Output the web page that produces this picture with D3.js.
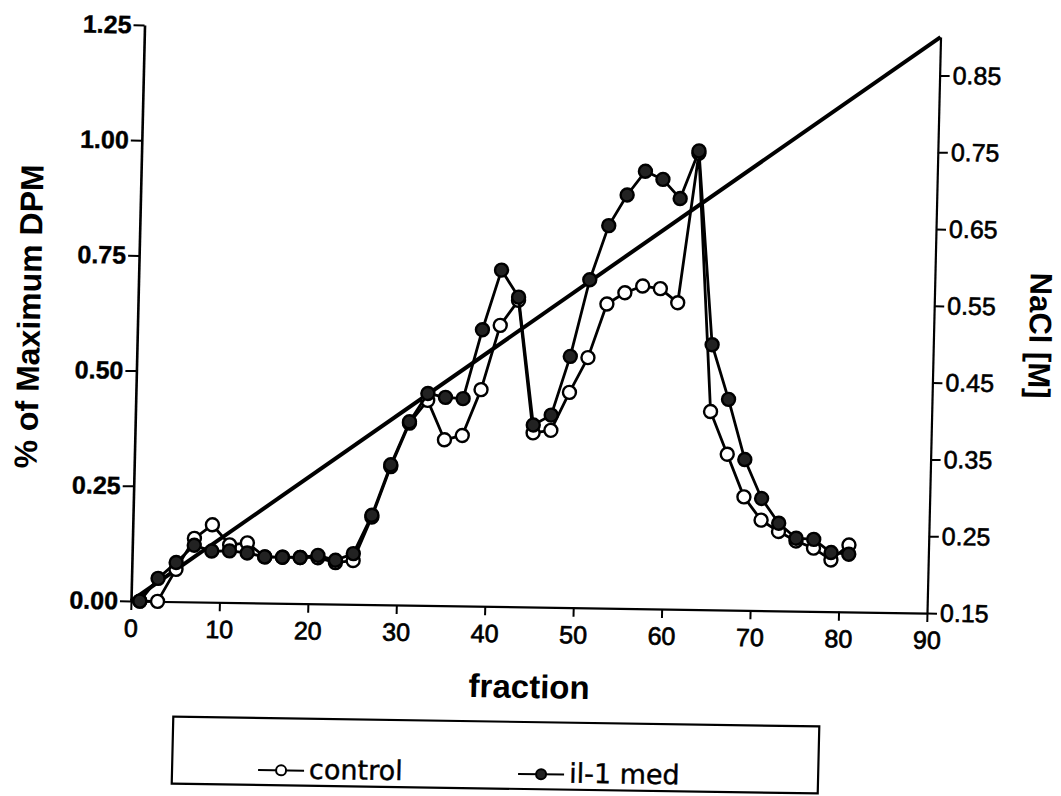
<!DOCTYPE html>
<html>
<head>
<meta charset="utf-8">
<script src="https://cdn.jsdelivr.net/npm/d3@7"></script>
<style>
  body { margin: 0; background: #fff; }
  svg { display: block; }
</style>
</head>
<body>
<svg id="chart" width="1061" height="796"></svg>
<script>
// Fractions collected from the column (every second fraction was counted)
const fractions = [1, 3, 5, 7, 9, 11, 13, 15, 17, 19, 21, 23, 25, 27, 29, 31, 33, 35, 37, 39,
                   41, 43, 45, 47, 49, 51, 53, 55, 57, 59, 61, 63, 65, 67, 69, 71, 73, 75, 77, 79, 81];

// Relative radioactivity (fraction of maximum DPM)
const control = [0, 0, 0.07, 0.138, 0.168, 0.125, 0.13, 0.10, 0.10, 0.10, 0.10, 0.09, 0.095, 0.19, 0.30, 0.395,
                 0.445, 0.36, 0.37, 0.47, 0.61, 0.665, 0.378, 0.384, 0.467, 0.543, 0.66, 0.685, 0.70, 0.695,
                 0.665, 0.99, 0.43, 0.338, 0.246, 0.196, 0.172, 0.152, 0.137, 0.112, 0.145];
const il1Med = [0, 0.05, 0.085, 0.123, 0.111, 0.112, 0.108, 0.10, 0.10, 0.10, 0.105, 0.095, 0.11, 0.194, 0.304, 0.398,
                0.46, 0.452, 0.45, 0.60, 0.73, 0.672, 0.395, 0.417, 0.545, 0.712, 0.83, 0.897, 0.949, 0.932,
                0.891, 0.995, 0.575, 0.457, 0.327, 0.243, 0.19, 0.158, 0.156, 0.128, 0.125];

// Linear NaCl gradient
const saltFractions = [0, 90];
const saltMolar = [0.15, 0.90];

// Tick values
const dpmTicks = [0, 0.25, 0.5, 0.75, 1.0, 1.25];
const saltTicks = [0.15, 0.25, 0.35, 0.45, 0.55, 0.65, 0.75, 0.85];
const fractionTicks = [0, 10, 20, 30, 40, 50, 60, 70, 80, 90];

const seriesNames = ["control", "il-1 med"];

const svg = d3.select("#chart");
svg.append("rect").attr("width", 1061).attr("height", 796).attr("fill", "#fff");

const plotLeft = 131, plotRight = 927, plotTop = 25, plotBottom = 601;
const sans = "'Liberation Sans', Arial, Helvetica, sans-serif";

// Whole figure sits on a slightly sheared frame
const root = svg.append("g")
  .attr("transform", `translate(${plotLeft},${plotBottom}) matrix(1,0.0151,-0.0235,1,0,0) translate(${-plotLeft},${-plotBottom})`);

const x = d3.scaleLinear().domain([0, 90]).range([plotLeft, plotRight]);
const y = d3.scaleLinear().domain([0, 1.25]).range([plotBottom, plotTop]);
const y2 = d3.scaleLinear().domain([0.15, 0.90]).range([plotBottom, plotTop]);

const fmt = d3.format(".2f");

// Left axis
const gLeft = root.append("g").attr("transform", `translate(${plotLeft},0)`)
  .call(d3.axisLeft(y).tickValues(dpmTicks).tickFormat(fmt).tickSize(11).tickPadding(2).tickSizeOuter(0));
gLeft.select(".domain").attr("stroke-width", 2.6);
gLeft.selectAll(".tick line").attr("stroke-width", 2);
gLeft.selectAll(".tick text")
  .attr("font-family", sans).attr("font-weight", "bold").attr("font-size", 25)
  .attr("fill", "#000").attr("stroke", "#000").attr("stroke-width", 0.4);

// Bottom axis
const gBottom = root.append("g").attr("transform", `translate(0,${plotBottom})`)
  .call(d3.axisBottom(x).tickValues(fractionTicks).tickSize(9).tickPadding(9).tickSizeOuter(0));
gBottom.select(".domain").attr("stroke-width", 2.2);
gBottom.selectAll(".tick line").attr("stroke-width", 2);
gBottom.selectAll(".tick text")
  .attr("font-family", sans).attr("font-size", 25)
  .attr("fill", "#000").attr("stroke", "#000").attr("stroke-width", 0.7);

// Right axis
const gRight = root.append("g").attr("transform", `translate(${plotRight},0)`)
  .call(d3.axisRight(y2).tickValues(saltTicks).tickFormat(fmt).tickSize(10).tickPadding(3).tickSizeOuter(0));
gRight.select(".domain").attr("stroke-width", 2.2);
gRight.selectAll(".tick line").attr("stroke-width", 2);
gRight.selectAll(".tick text")
  .attr("font-family", sans).attr("font-size", 25)
  .attr("fill", "#000").attr("stroke", "#000").attr("stroke-width", 0.6);

// NaCl gradient line
const saltLine = d3.line().x(d => x(d[0])).y(d => y2(d[1]));
root.append("path")
  .datum(saltFractions.map((f, i) => [f, saltMolar[i]]))
  .attr("d", saltLine)
  .attr("fill", "none").attr("stroke", "#000").attr("stroke-width", 4);

// Elution profiles
const line = d3.line().x(d => x(d[0])).y(d => y(d[1]));
const series = [
  { name: seriesNames[0], values: control, fill: "#fff" },
  { name: seriesNames[1], values: il1Med, fill: "#222" }
];

series.forEach(s => {
  const pts = fractions.map((f, i) => [f, s.values[i]]);
  const g = root.append("g");
  g.append("path").datum(pts).attr("d", line)
    .attr("fill", "none").attr("stroke", "#000").attr("stroke-width", 2.8).attr("stroke-linejoin", "round");
  g.selectAll("circle").data(pts).join("circle")
    .attr("cx", d => x(d[0])).attr("cy", d => y(d[1])).attr("r", 6.5)
    .attr("fill", s.fill).attr("stroke", "#000").attr("stroke-width", 2.4);
});

// Axis titles
root.append("text")
  .attr("transform", `translate(22,${(plotTop + plotBottom) / 2 + 5}) rotate(-90)`)
  .attr("text-anchor", "middle").attr("dy", "0.36em")
  .attr("font-family", sans).attr("font-weight", "bold").attr("font-size", 32)
  .text("% of Maximum DPM");

root.append("text")
  .attr("x", 531).attr("y", 692)
  .attr("text-anchor", "middle")
  .attr("font-family", sans).attr("font-weight", "bold").attr("font-size", 33)
  .text("fraction");

root.append("text")
  .attr("transform", `translate(1034,322) rotate(90)`)
  .attr("text-anchor", "middle").attr("dy", "0.36em")
  .attr("font-family", sans).attr("font-weight", "bold").attr("font-size", 31)
  .text("NaCl [M]");

// Legend
const legend = root.append("g");
legend.append("rect")
  .attr("x", 176).attr("y", 716).attr("width", 646).attr("height", 67)
  .attr("fill", "none").attr("stroke", "#000").attr("stroke-width", 2.2);

const legendItems = [
  { name: seriesNames[0], fill: "#fff", x0: 262 },
  { name: seriesNames[1], fill: "#222", x0: 522 }
];
legendItems.forEach(item => {
  const ly = 768;
  legend.append("line").attr("x1", item.x0).attr("x2", item.x0 + 46).attr("y1", ly).attr("y2", ly)
    .attr("stroke", "#000").attr("stroke-width", 2);
  legend.append("circle").attr("cx", item.x0 + 23).attr("cy", ly).attr("r", 5)
    .attr("fill", item.fill).attr("stroke", "#000").attr("stroke-width", 2);
  legend.append("text").attr("x", item.x0 + 51).attr("y", 776)
    .attr("font-family", "'DejaVu Sans', sans-serif").attr("font-size", 27)
    .attr("stroke", "#000").attr("stroke-width", 0.4)
    .text(item.name);
});
</script>
</body>
</html>
